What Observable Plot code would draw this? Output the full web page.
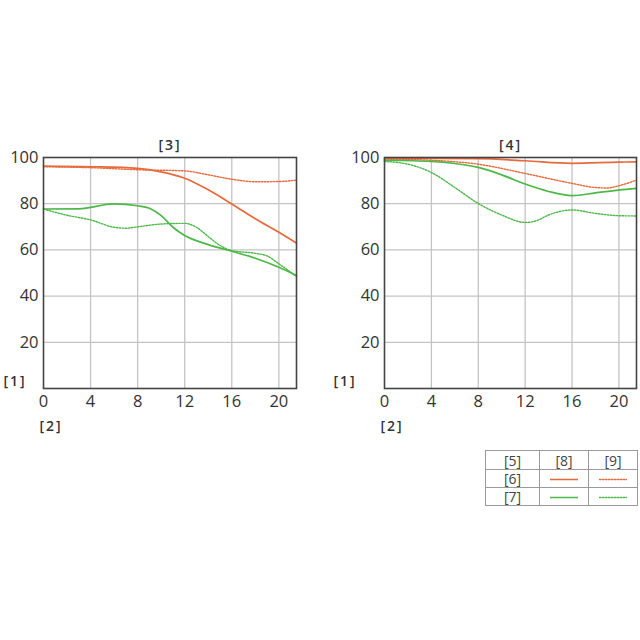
<!DOCTYPE html>
<html>
<head>
<meta charset="utf-8">
<script src="https://cdn.jsdelivr.net/npm/d3@7"></script>
<script src="https://cdn.jsdelivr.net/npm/@observablehq/plot@0.6"></script>
<style>
  html, body { margin: 0; padding: 0; background: #fff; }
  #wrap { position: relative; width: 640px; height: 640px; font-family: "Open Sans", sans-serif; }
  #wrap > svg { position: absolute; }
  #wrap > svg g[font-weight="600"] text { letter-spacing: 2px; }
  table.leg { position: absolute; left: 485px; top: 450px; border-collapse: collapse; font-family: "Open Sans", sans-serif; font-size: 14px; color: #444; }
  table.leg td { border: 1px solid #9a9a9a; text-align: center; vertical-align: middle; padding: 0; height: 17px; line-height: 17px; }
  table.leg td svg { display: block; margin: auto; }
</style>
</head>
<body>
<div id="wrap"></div>
<script>
// ---- data ----
const titles = ["[3]", "[4]"];
const yLabel = "[1]";
const xLabel = "[2]";
const xTicks = [0, 4, 8, 12, 16, 20];
const yTicks = [20, 40, 60, 80, 100];
const legendHead = ["[5]", "[8]", "[9]"];
const legendRows = ["[6]", "[7]"];

// chart [3]
const aOrangeSolidX = [0, 4, 8, 10, 12, 14, 16, 18, 20, 21.5];
const aOrangeSolidY = [96.3, 96, 95.3, 93.8, 91, 86, 79.9, 73.5, 67.6, 62.9];
const aOrangeDotX = [0, 4, 8, 12, 14, 16, 18, 20, 21.5];
const aOrangeDotY = [96, 95.6, 94.7, 94.2, 92.5, 90.6, 89.5, 89.6, 90.2];
const aGreenSolidX = [0, 3, 6, 8, 9, 10, 11, 12, 14, 16, 18, 20, 21.5];
const aGreenSolidY = [77.7, 77.8, 79.9, 79.1, 78, 74.8, 69.8, 66.2, 62.3, 59.4, 56.4, 52.5, 48.9];
const aGreenDotX = [0, 2, 4, 6, 7, 8, 10, 12, 13, 14, 15, 16, 18, 19, 20, 21.5];
const aGreenDotY = [77.7, 75, 73, 69.8, 69.4, 70, 71.2, 71.5, 69.8, 65.8, 61.9, 59.7, 58.5, 57.4, 54, 48.5];

// chart [4]
const bOrangeSolidX = [0, 4, 8, 12, 16, 20, 21.5];
const bOrangeSolidY = [99.6, 99.6, 99.5, 98.6, 97.5, 98, 98.1];
const bOrangeDotX = [0, 4, 8, 12, 16, 18, 19, 20, 21.5];
const bOrangeDotY = [99.3, 98.8, 97.1, 93.1, 88.8, 87, 86.8, 87.8, 90.2];
const bGreenSolidX = [0, 4, 6, 8, 10, 12, 14, 16, 18, 20, 21.5];
const bGreenSolidY = [98.8, 98.3, 97.4, 95.7, 92.5, 88.5, 85.3, 83.5, 84.7, 85.9, 86.6];
const bGreenDotX = [0, 2, 4, 6, 8, 10, 12, 13, 14, 16, 18, 20, 21.5];
const bGreenDotY = [98.3, 97.1, 93.5, 87, 80.1, 75.1, 71.9, 72.7, 75.1, 77.3, 75.8, 74.8, 74.7];

const ORANGE = "#e8693a";
const GREEN = "#4cb848";

function pts(xs, ys) { return xs.map((x, i) => ({x, y: ys[i]})); }

function chart(title, series, left, mLeft, mRight) {
  const lab = {fontSize: 14, fontWeight: 600, fill: "#333"};
  const marks = [
    Plot.gridX(xTicks.slice(1), {stroke: "#c4c4c4", strokeOpacity: 1, strokeWidth: 1.3}),
    Plot.gridY(yTicks.slice(0, 4), {stroke: "#c4c4c4", strokeOpacity: 1, strokeWidth: 1.3}),
    Plot.axisX({ticks: xTicks, tickSize: 0, tickPadding: 7, fontSize: 16.5, color: "#333", tickFormat: d => d, label: null}),
    Plot.axisY({ticks: yTicks, tickSize: 0, tickPadding: 5, fontSize: 16.5, color: "#333", tickFormat: d => d, label: null}),
  ];
  for (const s of series) {
    marks.push(Plot.line(pts(s.x, s.y), {
      x: "x", y: "y", curve: "monotone-x", stroke: s.color,
      strokeWidth: s.dot ? 1.4 : 1.7,
      strokeDasharray: s.dot ? "1.5,1.5" : null
    }));
  }
  marks.push(Plot.frame({stroke: "#444", strokeWidth: 1.6}));
  marks.push(Plot.text([title], {frameAnchor: "top", dy: -17, ...lab}));
  marks.push(Plot.text([yLabel], {frameAnchor: "bottom-left", textAnchor: "start", dx: -mLeft + 3, dy: -3, ...lab}));
  marks.push(Plot.text([xLabel], {frameAnchor: "bottom-left", textAnchor: "start", dx: -4, dy: 42, ...lab}));
  const svg = Plot.plot({
    width: 310, height: 325,
    marginLeft: mLeft, marginRight: mRight, marginTop: 32, marginBottom: 62,
    style: {fontFamily: "Open Sans", background: "transparent"},
    x: {domain: [0, 21.5], label: null},
    y: {domain: [0, 100], label: null},
    marks
  });
  svg.style.left = left + "px";
  svg.style.top = "125px";
  return svg;
}

const wrap = document.getElementById("wrap");
wrap.appendChild(chart(titles[0], [
  {x: aOrangeDotX, y: aOrangeDotY, color: ORANGE, dot: true},
  {x: aGreenDotX, y: aGreenDotY, color: GREEN, dot: true},
  {x: aOrangeSolidX, y: aOrangeSolidY, color: ORANGE, dot: false},
  {x: aGreenSolidX, y: aGreenSolidY, color: GREEN, dot: false},
], 0, 43, 14));
wrap.appendChild(chart(titles[1], [
  {x: bOrangeDotX, y: bOrangeDotY, color: ORANGE, dot: true},
  {x: bGreenDotX, y: bGreenDotY, color: GREEN, dot: true},
  {x: bOrangeSolidX, y: bOrangeSolidY, color: ORANGE, dot: false},
  {x: bGreenSolidX, y: bGreenSolidY, color: GREEN, dot: false},
], 330, 54, 4));

// legend table
function sample(color, dot) {
  return Plot.plot({
    width: 28, height: 8, margin: 0, axis: null,
    x: {domain: [0, 1]}, y: {domain: [0, 1]},
    style: {background: "transparent"},
    marks: [Plot.line([{x: 0, y: 0.5}, {x: 1, y: 0.5}], {x: "x", y: "y", stroke: color, strokeWidth: dot ? 1.4 : 1.7, strokeDasharray: dot ? "1.5,1.5" : null})]
  });
}
const tbl = document.createElement("table");
tbl.className = "leg";
const head = document.createElement("tr");
legendHead.forEach((h, i) => {
  const td = document.createElement("td");
  td.textContent = h;
  td.style.width = i === 0 ? "53px" : "48px";
  td.style.height = "18px";
  head.appendChild(td);
});
tbl.appendChild(head);
[[legendRows[0], ORANGE], [legendRows[1], GREEN]].forEach(([lab, col]) => {
  const tr = document.createElement("tr");
  const td0 = document.createElement("td"); td0.textContent = lab; tr.appendChild(td0);
  const td1 = document.createElement("td"); td1.appendChild(sample(col, false)); tr.appendChild(td1);
  const td2 = document.createElement("td"); td2.appendChild(sample(col, true)); tr.appendChild(td2);
  tbl.appendChild(tr);
});
wrap.appendChild(tbl);
</script>
</body>
</html>
